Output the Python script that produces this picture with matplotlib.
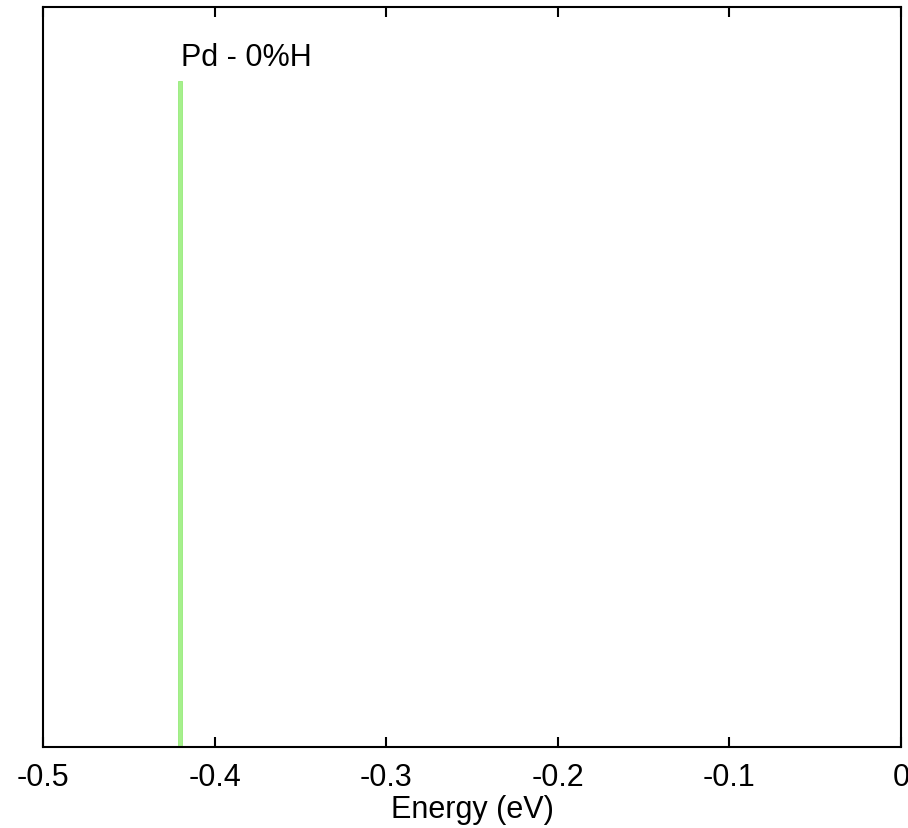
import matplotlib
matplotlib.use("Agg")
import matplotlib.pyplot as plt

# data
energy = [-0.42]
height = [0.9]
label = "Pd - 0%H"
xticks = [-0.5, -0.4, -0.3, -0.2, -0.1, 0]
xticklabels = ["-0.5", "-0.4", "-0.3", "-0.2", "-0.1", "0"]

plt.rcParams['font.family'] = ['Liberation Sans', 'DejaVu Sans']

fig = plt.figure(figsize=(9.08, 8.29), dpi=100)
ax = fig.add_axes([0.0474, 0.0977, 0.9449, 0.8926])

ax.bar(energy, height, width=0.0024, color='#a6f08c', edgecolor='#96ea7a', linewidth=0.6)
ax.text(energy[0] + 0.0005, height[0] + 0.012, label, fontsize=22, ha='left', va='bottom')

ax.set_xlim(-0.5, 0)
ax.set_ylim(0, 1)
ax.set_xticks(xticks)
ax.set_xticklabels(xticklabels)
ax.set_yticks([])
ax.tick_params(axis='x', direction='in', top=True, length=7, width=1.5, labelsize=22, pad=11)
for s in ax.spines.values():
    s.set_linewidth(1.5)
ax.set_xlabel("Energy (eV)", fontsize=22, labelpad=1)

fig.savefig("out.png", dpi=100)
